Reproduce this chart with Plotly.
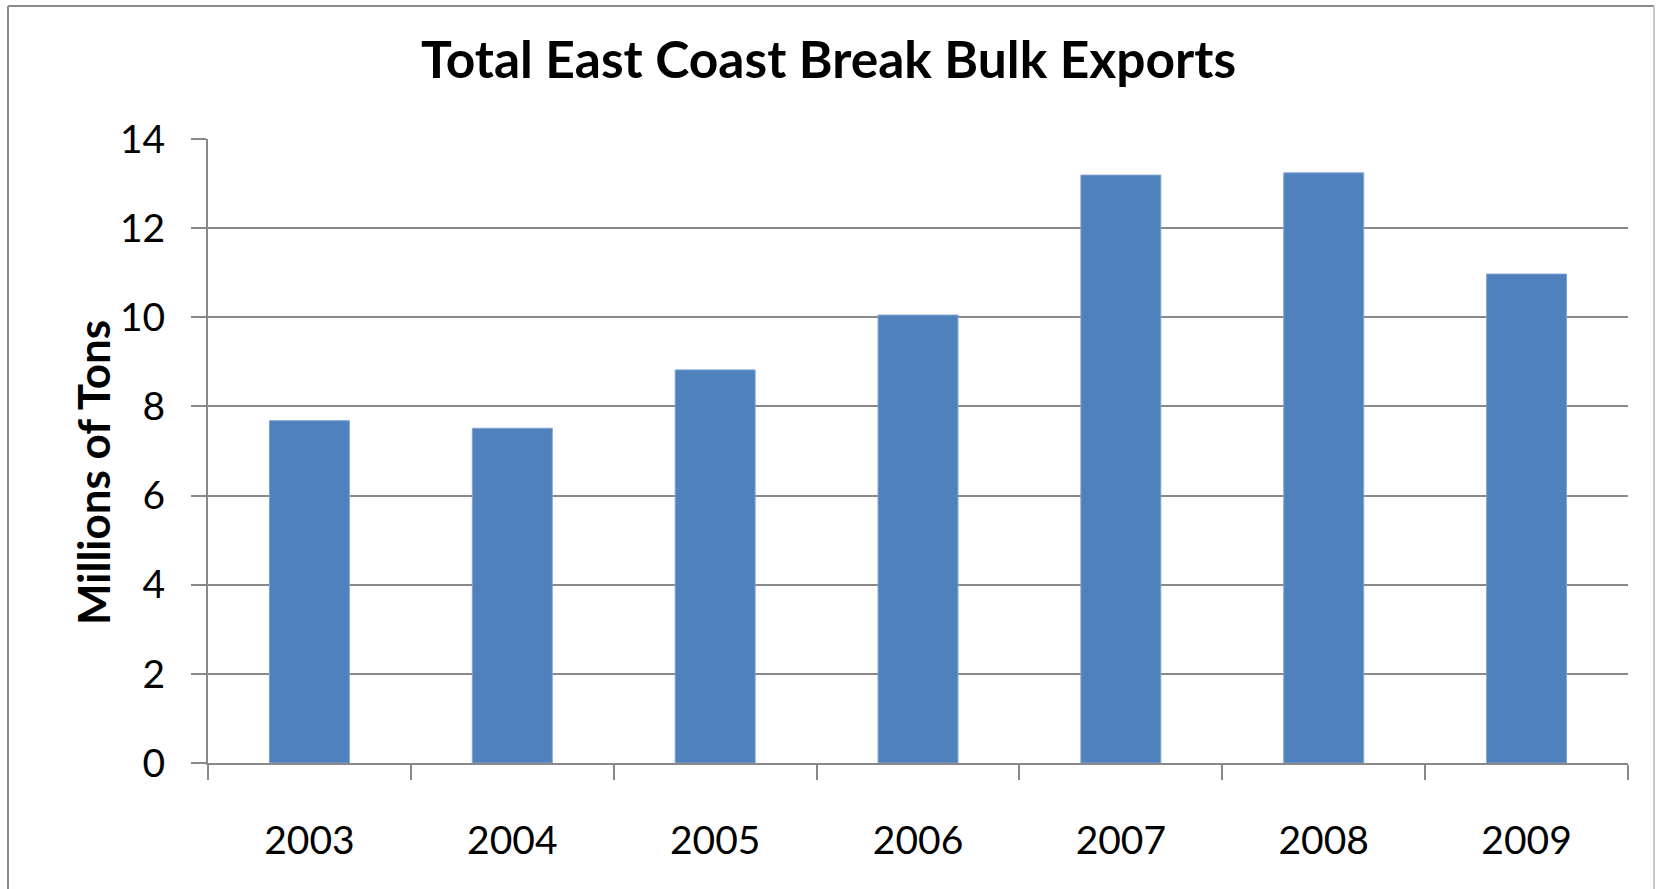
import plotly.graph_objects as go

years = ["2003", "2004", "2005", "2006", "2007", "2008", "2009"]
exports = [7.68, 7.51, 8.82, 10.05, 13.19, 13.24, 10.97]
y_ticks = [0, 2, 4, 6, 8, 10, 12, 14]

W, H = 1657, 889
L, R, T, B = 208, 29, 139, 126
pw = W - L - R
ph = H - T - B

fig = go.Figure()
fig.add_trace(go.Bar(
    x=years, y=exports,
    marker=dict(color="#4F81BD", line=dict(color="#7FA3D3", width=1)),
    width=0.394,
))

grid = "#898989"
fig.update_layout(
    width=W, height=H,
    margin=dict(l=L, r=R, t=T, b=B),
    paper_bgcolor="white", plot_bgcolor="white",
    showlegend=False,
    font=dict(family="Lato, 'Open Sans', sans-serif", color="black"),
    title=dict(
        text="<b>Total East Coast Break Bulk Exports</b>",
        x=0.5, xref="container", xanchor="center",
        y=1 - 60 / H, yref="container", yanchor="middle",
        font=dict(size=51.5, family="Lato, 'Open Sans', sans-serif", color="black"),
    ),
    xaxis=dict(
        type="category",
        showgrid=False,
        showline=True, linecolor=grid, linewidth=2,
        ticks="outside", tickson="boundaries", ticklen=15, tickcolor=grid, tickwidth=2,
        tickfont=dict(size=39),
        ticklabelstandoff=42,
    ),
    yaxis=dict(
        range=[0, 14],
        tickvals=y_ticks,
        showgrid=True, gridcolor=grid, gridwidth=2,
        showline=True, linecolor=grid, linewidth=2,
        zeroline=False,
        ticks="outside", ticklen=15, tickcolor=grid, tickwidth=2,
        tickfont=dict(size=39),
        ticklabelstandoff=18,
    ),
)

# y-axis title placed like the original (slightly below the plot centre)
fig.add_annotation(
    text="<b>Millions of Tons</b>", textangle=-90,
    xref="paper", yref="paper",
    x=(93 - L) / pw, y=(H - B - 473) / ph,
    xanchor="center", yanchor="middle", showarrow=False,
    font=dict(size=44, color="black"),
)

# chart border (top, left, right; bottom is cut off)
x0 = (8 - L) / pw
x1 = (1654 - L) / pw
y_top = (H - B - 6) / ph
y_bot = -0.4
fig.add_shape(type="line", xref="paper", yref="paper", x0=x0, x1=x1, y0=y_top, y1=y_top,
              line=dict(color="#8C8C8C", width=2))
fig.add_shape(type="line", xref="paper", yref="paper", x0=x0, x1=x0, y0=y_top, y1=y_bot,
              line=dict(color="#8C8C8C", width=2))
fig.add_shape(type="line", xref="paper", yref="paper", x0=x1, x1=x1, y0=y_top, y1=y_bot,
              line=dict(color="#C8C8C8", width=2))

fig.write_html(
    "out.html",
    config={"displayModeBar": False},
    post_script="document.body.style.margin='0';document.body.style.overflow='hidden';",
)
